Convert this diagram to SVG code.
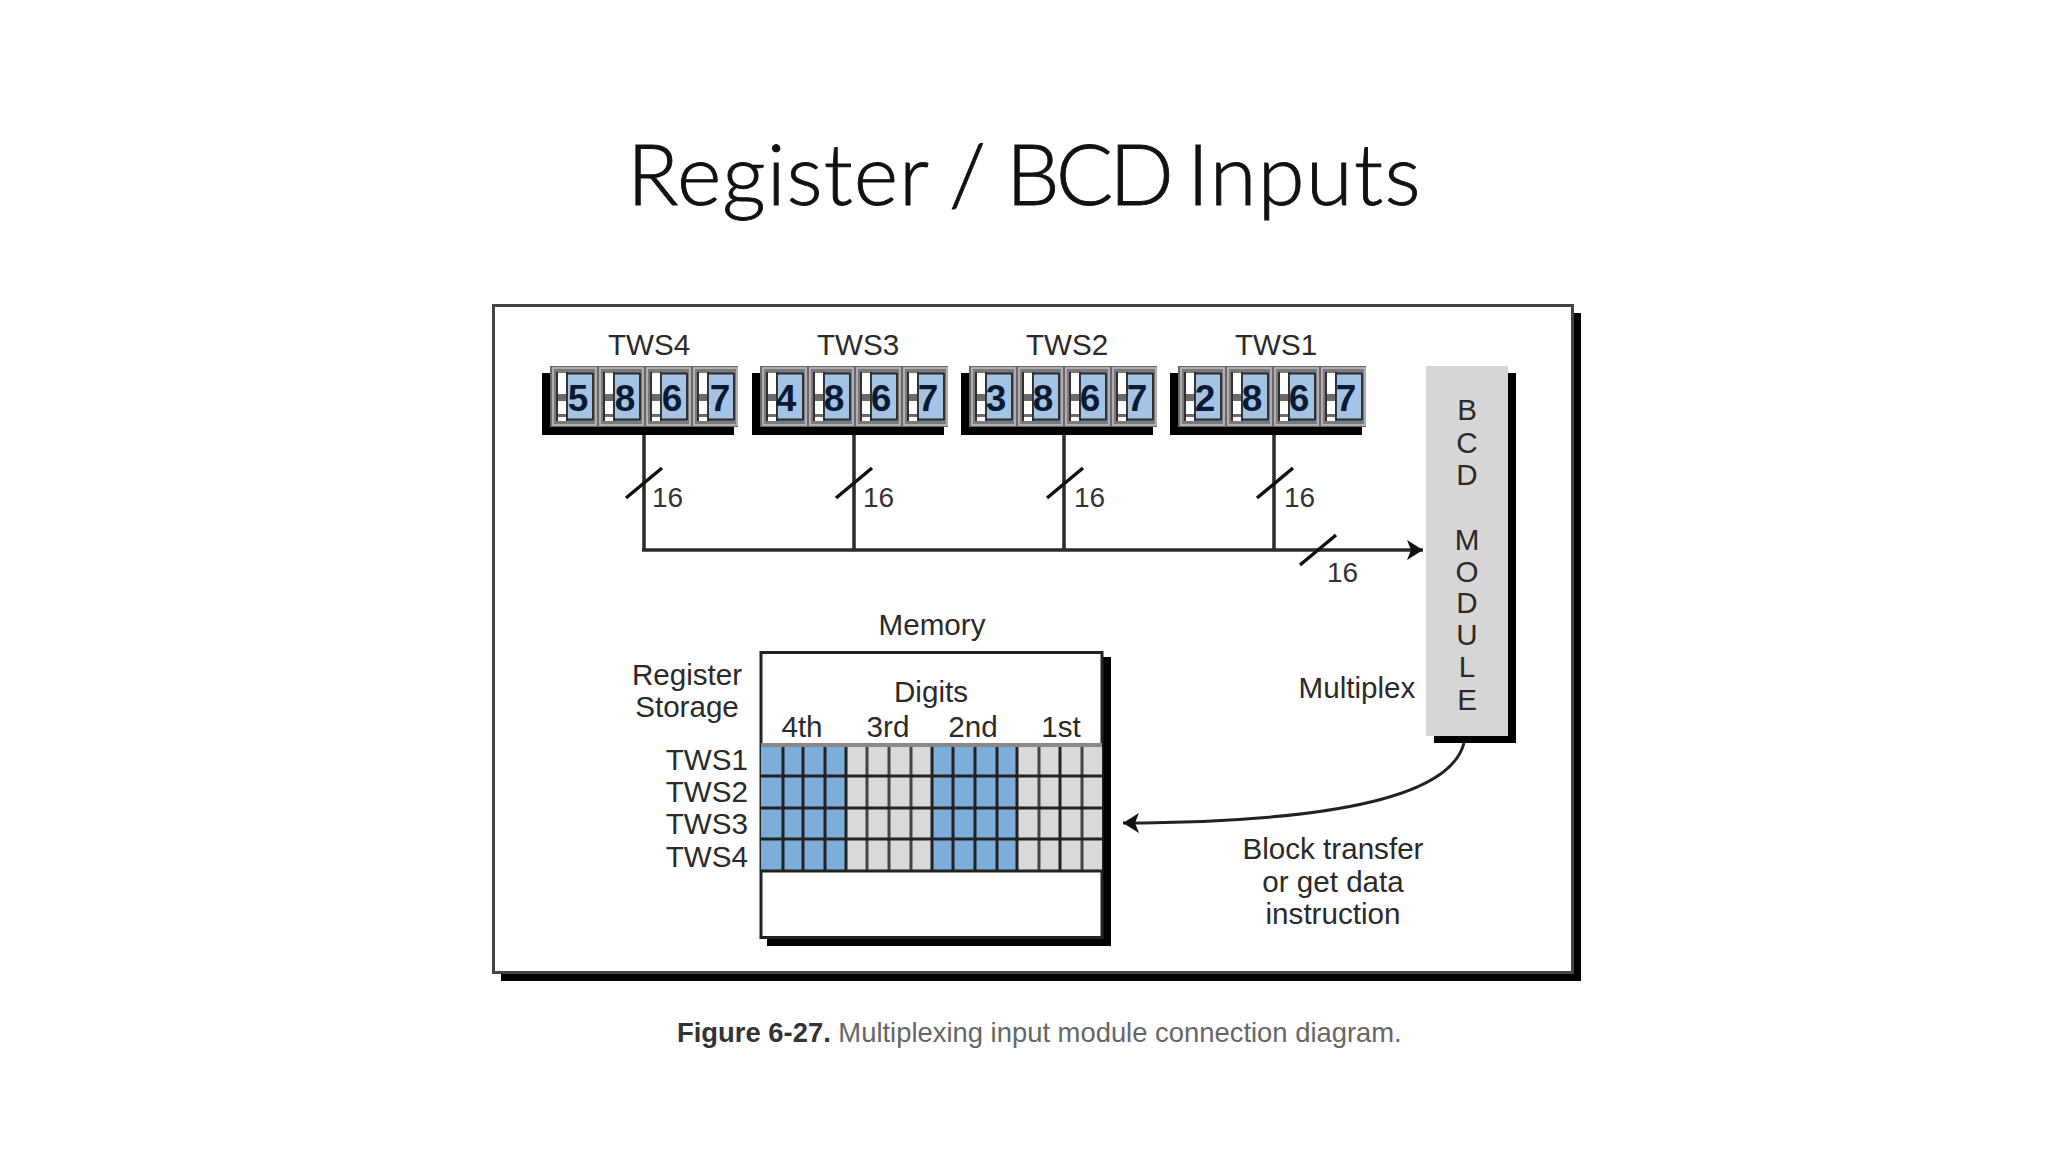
<svg xmlns="http://www.w3.org/2000/svg" xmlns:xlink="http://www.w3.org/1999/xlink" width="2048" height="1152" viewBox="0 0 2048 1152">
<style>
text{font-family:"Liberation Sans",Arial,sans-serif;fill:#2a2a2a;font-size:29.600px}
.m{text-anchor:middle}
.e{text-anchor:end}
.d{font-weight:bold;font-size:37px;fill:#0b1a33;text-anchor:middle}
.n{font-size:28px;fill:#333}
.title{font-family:"Lato","Open Sans",sans-serif;font-weight:300;font-size:85px;fill:#111;stroke:#111;stroke-width:.9px}
.wire{fill:none;stroke:#2b2b2b;stroke-width:3.500}
.slash{fill:none;stroke:#111;stroke-width:3.500}
.gl{stroke:#222;stroke-width:3}
.gl2{stroke:#444;stroke-width:3}
</style>
<defs>
<marker id="arrow" markerUnits="userSpaceOnUse" markerWidth="20" markerHeight="22" refX="16" refY="11" orient="auto">
<path d="M0 1 L16 11 L0 21 L4 11 Z" fill="#111"/>
</marker>
<g id="cell">
<rect x="1" y="1" width="43" height="57" fill="#7a7a7a" stroke="#c4c4c4" stroke-width="1.500"/>
<rect x="6" y="6" width="8" height="48" fill="#fff"/>
<rect x="6" y="27" width="9" height="7" fill="#6a6a6a"/>
<rect x="6" y="47" width="9" height="3" fill="#6a6a6a"/>
<rect x="15" y="7" width="25" height="45" fill="#a5c3e4"/>
<path d="M5 5V54M15 5V54M41 6V53M15 6.500H41M15 52.500H41" fill="none" stroke="#2a2a2a" stroke-width="1.800"/>
</g>
<g id="bank">
<rect x="542" y="373" width="192" height="62" fill="#000"/>
<rect x="550" y="366" width="188" height="61" fill="#6a6a6a"/>
<use href="#cell" x="552" y="367"/>
<use href="#cell" x="599" y="367"/>
<use href="#cell" x="646" y="367"/>
<use href="#cell" x="693" y="367"/>
</g>
</defs>
<rect width="2048" height="1152" fill="#fff"/>
<text class="title" y="205"><tspan x="627" style="letter-spacing:1px">Register</tspan> <tspan x="949">/</tspan> <tspan x="1006" style="letter-spacing:-4px">BCD</tspan> <tspan x="1187" style="letter-spacing:1.300px">Inputs</tspan></text>

<g id="frame">
<path d="M1573 313H1581V981H501V972H1573Z" fill="#000"/>
<rect x="493.500" y="305.500" width="1079" height="667" fill="#fff" stroke="#444" stroke-width="3"/>
</g>

<g id="tws4">
<text class="m" x="649" y="355">TWS4</text>
<use href="#bank"/>
<text class="d" x="578" y="411">5</text><text class="d" x="625" y="411">8</text><text class="d" x="672" y="411">6</text><text class="d" x="720" y="411">7</text>
</g>
<g id="tws3">
<text class="m" x="858" y="355">TWS3</text>
<use href="#bank" x="210"/>
<text class="d" x="786" y="411">4</text><text class="d" x="834" y="411">8</text><text class="d" x="881" y="411">6</text><text class="d" x="928" y="411">7</text>
</g>
<g id="tws2">
<text class="m" x="1067" y="355">TWS2</text>
<use href="#bank" x="419"/>
<text class="d" x="996" y="411">3</text><text class="d" x="1043" y="411">8</text><text class="d" x="1090" y="411">6</text><text class="d" x="1137" y="411">7</text>
</g>
<g id="tws1">
<text class="m" x="1276" y="355">TWS1</text>
<use href="#bank" x="628"/>
<text class="d" x="1205" y="411">2</text><text class="d" x="1252" y="411">8</text><text class="d" x="1299" y="411">6</text><text class="d" x="1346" y="411">7</text>
</g>

<g id="bcd-module">
<rect x="1434" y="373" width="82" height="370" fill="#000"/>
<rect x="1426" y="366" width="82" height="370" fill="#d6d6d6"/>
<text class="m"><tspan x="1467" y="420">B</tspan><tspan x="1467" y="453">C</tspan><tspan x="1467" y="485">D</tspan><tspan x="1467" y="550">M</tspan><tspan x="1467" y="582">O</tspan><tspan x="1467" y="613">D</tspan><tspan x="1467" y="645">U</tspan><tspan x="1467" y="677">L</tspan><tspan x="1467" y="710">E</tspan></text>
</g>

<g id="memory">
<text class="m" x="932" y="635">Memory</text>
<rect x="767" y="657" width="344" height="289" fill="#000"/>
<rect x="761" y="652.500" width="341" height="285" fill="#fff" stroke="#222" stroke-width="3"/>
<rect x="761" y="745" width="85" height="126" fill="#7dadd9"/>
<rect x="846" y="745" width="86" height="126" fill="#d9d9d9"/>
<rect x="932" y="745" width="85" height="126" fill="#7dadd9"/>
<rect x="1017" y="745" width="85" height="126" fill="#d9d9d9"/>
<path class="gl" d="M783 745V871M803 745V871M825 745V871M846 745V871M932 745V871M953 745V871M975 745V871M997 745V871M1017 745V871M1060 745V871"/>
<path class="gl2" d="M867 745V871M889 745V871M911 745V871M1039 745V871M1082 745V871"/>
<path stroke="#888" stroke-width="4" d="M761 745H1102"/>
<path class="gl" d="M761 776H1102M761 808H1102M761 839H1102M761 871H1102"/>
<text class="m" x="931" y="702">Digits</text>
<text class="m" x="802" y="737">4th</text>
<text class="m" x="888" y="737">3rd</text>
<text class="m" x="973" y="737">2nd</text>
<text class="m" x="1061" y="737">1st</text>
</g>

<g id="labels">
<text class="m" x="687" y="685">Register</text>
<text class="m" x="687" y="717">Storage</text>
<text class="e" x="748" y="770">TWS1</text>
<text class="e" x="748" y="802">TWS2</text>
<text class="e" x="748" y="834">TWS3</text>
<text class="e" x="748" y="867">TWS4</text>
<text class="m" x="1357" y="698">Multiplex</text>
<text class="m" x="1333" y="859">Block transfer</text>
<text class="m" x="1333" y="892">or get data</text>
<text class="m" x="1333" y="924">instruction</text>
<text class="n" x="652" y="507">16</text>
<text class="n" x="863" y="507">16</text>
<text class="n" x="1074" y="507">16</text>
<text class="n" x="1284" y="507">16</text>
<text class="n" x="1327" y="582">16</text>
</g>

<g id="connectors">
<path class="wire" d="M644 435V550M854 435V550M1064 435V550M1274 435V550"/>
<path class="wire" d="M642 550H1423" marker-end="url(#arrow)"/>
<path class="slash" d="M626 498L662 468M836 498L872 468M1047 498L1083 468M1257 498L1293 468M1300 565L1336 535"/>
<path d="M1464 743C1452 790 1360 822 1123 823" fill="none" stroke="#222" stroke-width="3" marker-end="url(#arrow)"/>
</g>

<text x="677" y="1042" style="font-size:27.400px;font-weight:bold;fill:#333">Figure 6-27.<tspan style="font-weight:normal;fill:#666"> Multiplexing input module connection diagram.</tspan></text>
</svg>
